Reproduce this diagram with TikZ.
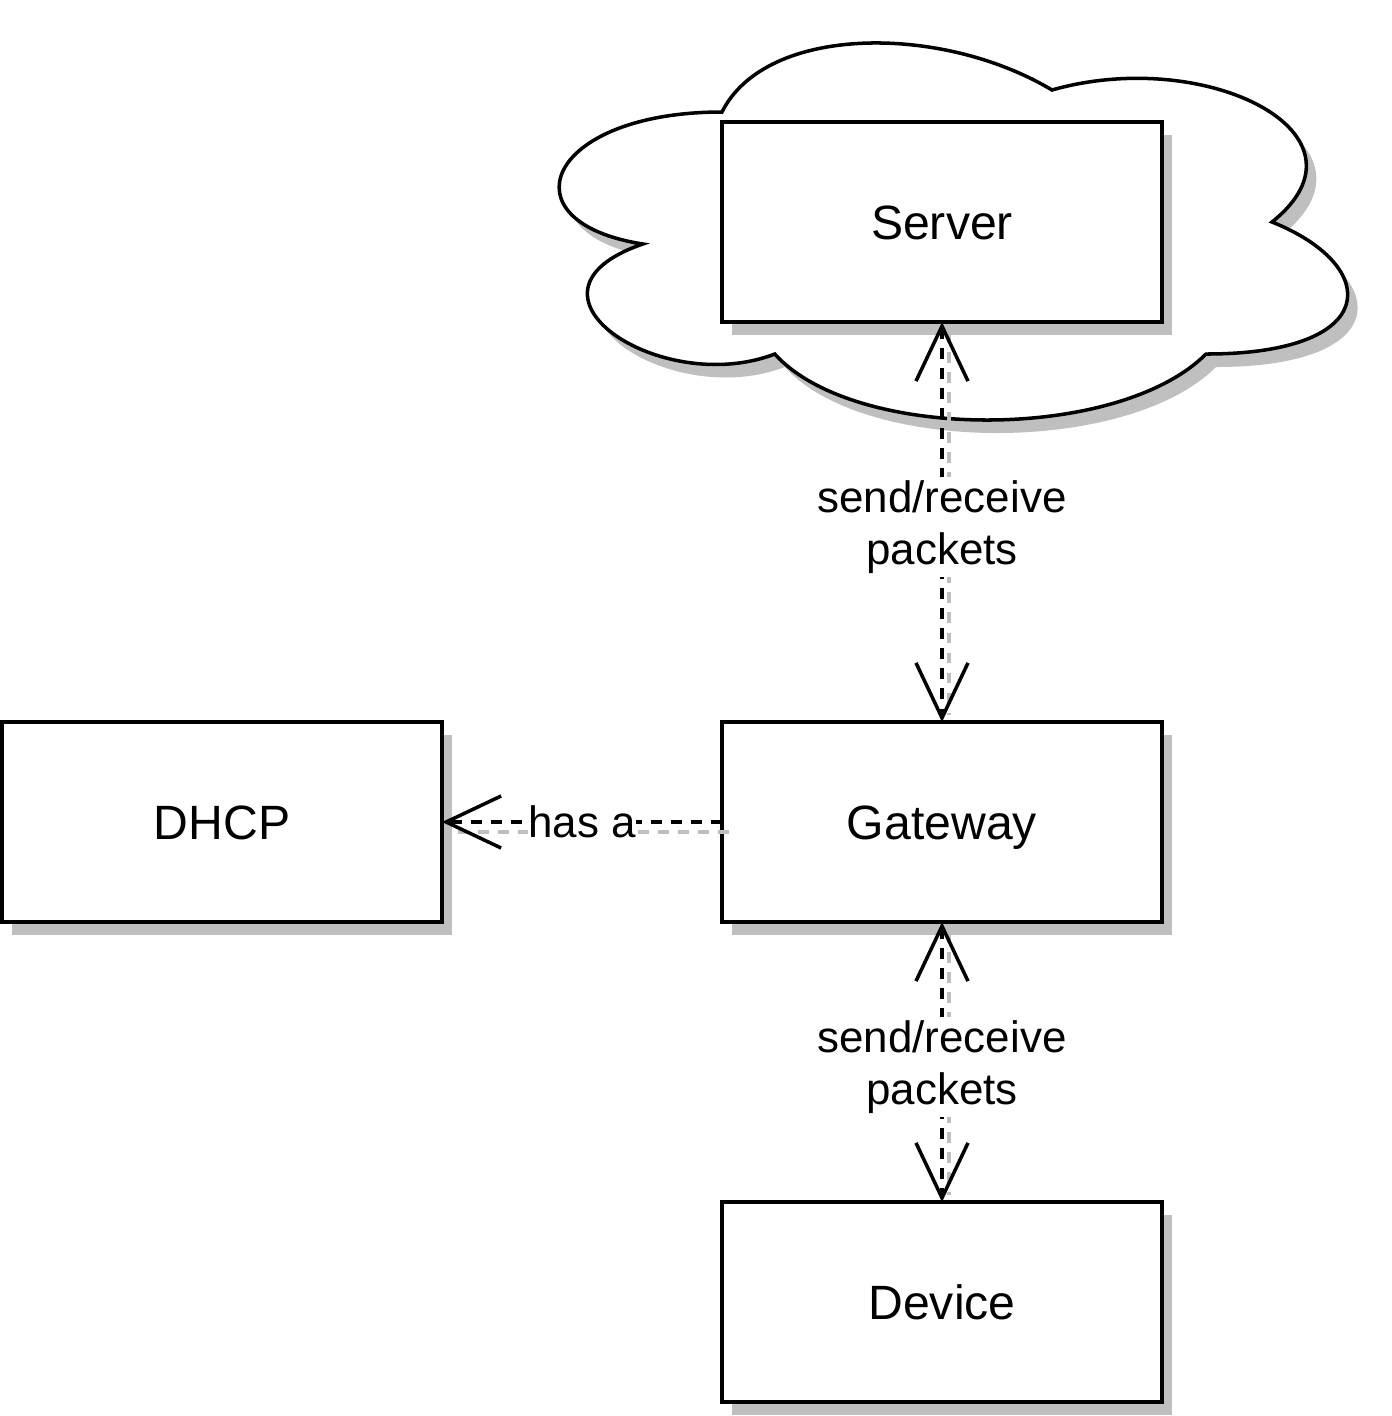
\documentclass[tikz,border=0pt]{standalone}
\usepackage{fontspec}
\setmainfont{Liberation Sans}
\usetikzlibrary{positioning,shadows,arrows.meta}
\tikzset{
    box/.style={
        rectangle,
        draw=black,
        fill=white,
        line width=1.1pt,
        minimum width=4.4cm,
        minimum height=2cm,
        outer sep=0pt,
        text height=9.8pt,
        text depth=0pt,
        font=\fontsize{13.7}{16}\selectfont,
        drop shadow={shadow xshift=0.1cm, shadow yshift=-0.13cm, fill=gray!50, opacity=1}
    },
    cloud/.style={
        draw=black,
        fill=white,
        line width=1pt,
        drop shadow={shadow xshift=0.1cm, shadow yshift=-0.13cm, fill=gray!50, opacity=1}
    },
    link/.style={
        line width=1pt,
        dash pattern=on 3.1pt off 2.6pt,
        >={Straight Barb[length=0.55cm,width=0.52cm]}
    },
    linkshadow/.style={
        draw=gray!50,
        line width=1pt,
        dash pattern=on 3.1pt off 2.6pt,
        transform canvas={shift={(0.07,-0.1)}}
    },
    tag/.style={
        fill=white,
        inner xsep=0pt,
        inner ysep=1pt,
        align=center,
        font=\fontsize{12.5}{14.8}\selectfont
    }
}

\begin{document}
\begin{tikzpicture}
    \useasboundingbox (0,0) rectangle (13.92,-14.16);
    % the cloud behind the server
    \begin{scope}[shift={(5.02,-0.02)}, x=8.8cm, y=-4.4cm]
        \draw[cloud] (0.25,0.25) .. controls (0.05,0.25) and (0,0.5) .. (0.16,0.55)
            .. controls (0,0.66) and (0.18,0.9) .. (0.31,0.8)
            .. controls (0.4,1) and (0.7,1) .. (0.8,0.8)
            .. controls (1,0.8) and (1,0.6) .. (0.875,0.5)
            .. controls (1,0.3) and (0.8,0.1) .. (0.625,0.2)
            .. controls (0.5,0.05) and (0.3,0.05) .. (0.25,0.25) -- cycle;
    \end{scope}

    \node (server) [box] at (9.42,-2.22) {Server};
    \node (gateway) [box, below=4cm of server] {Gateway};
    \node (device) [box, below=2.8cm of gateway] {Device};
    \node (dhcp) [box, left=2.8cm of gateway] {DHCP};

    \draw [linkshadow, shorten >=0.17cm] (server) -- (gateway);
    \draw [linkshadow, shorten >=0.17cm] (gateway) -- (device);
    \draw [linkshadow] (gateway) -- (dhcp);
    \draw [link,<->] (server) -- (gateway) node[tag,midway,yshift=-0.05cm] {send/receive\\packets};
    \draw [link,<->] (gateway) -- (device) node[tag,midway,yshift=-0.05cm] {send/receive\\packets};
    \draw [link,->] (gateway) -- (dhcp) node[tag,midway] {has a};
\end{tikzpicture}
\end{document}
